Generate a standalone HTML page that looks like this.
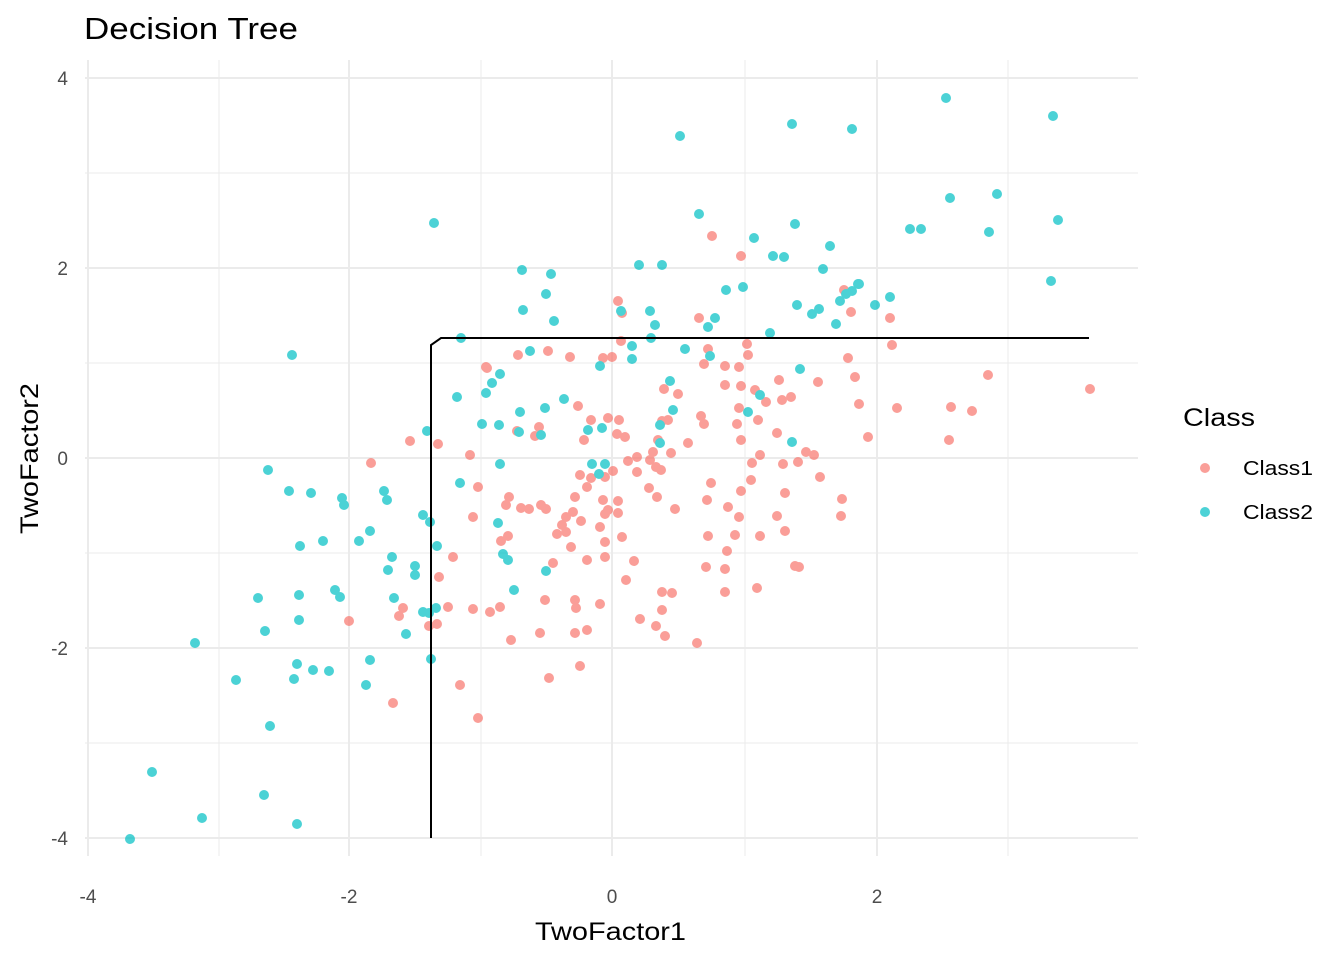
<!DOCTYPE html>
<html><head><meta charset="utf-8"><style>body{margin:0;background:#fff}svg{display:block;font-family:"Liberation Sans",sans-serif}</style></head><body>
<svg width="1344" height="960" viewBox="0 0 1344 960" xmlns="http://www.w3.org/2000/svg">
<rect width="1344" height="960" fill="#fff"/>
<g stroke="#EBEBEB" stroke-width="1">
<line x1="219" y1="60" x2="219" y2="856"/><line x1="481" y1="60" x2="481" y2="856"/><line x1="745" y1="60" x2="745" y2="856"/><line x1="1008" y1="60" x2="1008" y2="856"/>
<line x1="85" y1="173" x2="1138" y2="173"/><line x1="85" y1="363" x2="1138" y2="363"/><line x1="85" y1="553" x2="1138" y2="553"/><line x1="85" y1="743" x2="1138" y2="743"/>
</g>
<g stroke="#EBEBEB" stroke-width="2">
<line x1="88" y1="60" x2="88" y2="856"/><line x1="349" y1="60" x2="349" y2="856"/><line x1="612" y1="60" x2="612" y2="856"/><line x1="877" y1="60" x2="877" y2="856"/>
<line x1="85" y1="78" x2="1138" y2="78"/><line x1="85" y1="268" x2="1138" y2="268"/><line x1="85" y1="458" x2="1138" y2="458"/><line x1="85" y1="648" x2="1138" y2="648"/><line x1="85" y1="838" x2="1138" y2="838"/>
</g>
<g id="pts" opacity="0.7"></g>
<path d="M431 838 V345 L441 338 H1089" fill="none" stroke="#000" stroke-width="2"/>
<text x="84" y="39" font-size="31" fill="#000" textLength="214" lengthAdjust="spacingAndGlyphs">Decision Tree</text>
<g font-size="19" fill="#4D4D4D" text-anchor="end">
<text x="68" y="85">4</text><text x="68" y="275">2</text><text x="68" y="465">0</text><text x="68" y="655">-2</text><text x="68" y="845">-4</text>
</g>
<g font-size="19" fill="#4D4D4D" text-anchor="middle">
<text x="88" y="903">-4</text><text x="349" y="903">-2</text><text x="612" y="903">0</text><text x="877" y="903">2</text>
</g>
<text x="535" y="940" font-size="25" textLength="151" lengthAdjust="spacingAndGlyphs">TwoFactor1</text>
<text x="0" y="0" font-size="25" transform="translate(38 534) rotate(-90)" textLength="151" lengthAdjust="spacingAndGlyphs">TwoFactor2</text>
<text x="1183" y="426" font-size="25" textLength="72" lengthAdjust="spacingAndGlyphs">Class</text>
<circle cx="1205" cy="468" r="5" fill="#F8766D" opacity="0.7"/><text x="1243" y="475" font-size="20" textLength="70" lengthAdjust="spacingAndGlyphs">Class1</text>
<circle cx="1205" cy="512" r="5" fill="#00BFC4" opacity="0.7"/><text x="1243" y="519" font-size="20" textLength="70" lengthAdjust="spacingAndGlyphs">Class2</text>
</svg>
<script>
var t=[[946,98],[1053,116],[792,124],[852,129],[680,136],[434,223],[699,214],[950,198],[997,194],[1058,220],[910,229],[921,229],[989,232],[795,224],[830,246],[754,238],[639,265],[662,265],[522,270],[551,274],[773,256],[784,257],[823,269],[1051,281],[859,284],[852,291],[846,294],[840,301],[875,305],[890,297],[797,305],[812,314],[819,309],[743,287],[726,290],[715,318],[708,327],[655,325],[650,311],[621,311],[651,338],[685,349],[710,356],[523,310],[546,294],[554,321],[461,338],[530,351],[292,355],[836,324],[770,333],[600,366],[632,359],[500,374],[492,383],[670,381],[486,393],[457,397],[564,399],[520,412],[545,408],[482,424],[499,425],[519,432],[541,435],[427,431],[460,483],[588,430],[602,428],[660,425],[660,443],[673,410],[748,412],[760,395],[792,442],[800,369],[605,464],[592,464],[599,474],[500,464],[268,470],[289,491],[311,493],[342,498],[344,505],[384,491],[387,500],[423,515],[430,522],[437,546],[300,546],[323,541],[359,541],[370,531],[392,557],[388,570],[415,566],[415,575],[498,523],[503,554],[508,560],[546,571],[514,590],[335,590],[340,597],[394,598],[423,612],[429,613],[436,608],[258,598],[265,631],[299,595],[299,620],[406,634],[195,643],[297,664],[313,670],[329,671],[236,680],[370,660],[366,685],[294,679],[431,659],[270,726],[152,772],[264,795],[202,818],[297,824],[130,839],[858,284],[632,346]];
var r=[[712,236],[741,256],[618,301],[622,313],[699,318],[851,312],[844,290],[890,318],[892,345],[747,344],[748,355],[708,349],[739,367],[704,364],[612,357],[603,358],[570,357],[548,351],[518,355],[486,367],[621,341],[664,389],[678,394],[725,366],[766,402],[779,380],[782,400],[791,397],[818,382],[848,358],[855,377],[859,404],[897,408],[951,407],[972,411],[988,375],[1090,389],[868,437],[949,440],[737,424],[758,420],[701,416],[608,418],[619,420],[625,437],[578,406],[584,440],[591,420],[617,434],[637,457],[658,440],[662,421],[661,470],[653,452],[656,467],[628,461],[591,478],[605,477],[587,487],[580,475],[613,471],[637,472],[649,488],[657,497],[675,509],[603,500],[618,501],[618,513],[605,514],[600,527],[575,497],[573,512],[546,509],[541,505],[529,509],[521,508],[509,497],[506,505],[566,517],[566,532],[557,534],[581,521],[562,525],[508,536],[501,541],[605,542],[622,537],[605,557],[634,561],[626,580],[587,560],[571,547],[553,563],[470,455],[478,487],[473,517],[453,557],[439,577],[437,624],[429,626],[448,607],[473,609],[490,612],[500,607],[545,600],[575,600],[576,608],[600,604],[587,630],[575,633],[540,633],[511,640],[580,666],[549,678],[460,685],[478,718],[393,703],[403,608],[399,616],[349,621],[371,463],[410,441],[438,444],[487,368],[517,431],[535,436],[539,427],[711,483],[707,500],[728,507],[741,491],[739,517],[752,463],[783,464],[777,433],[798,462],[806,452],[814,455],[820,477],[841,516],[842,499],[777,516],[785,531],[785,493],[760,536],[735,535],[708,536],[727,551],[725,569],[706,567],[725,592],[662,592],[662,610],[672,593],[640,619],[656,626],[665,636],[697,643],[757,588],[795,566],[799,567],[751,480],[739,408],[741,386],[755,390],[725,385],[704,424],[668,420],[671,453],[741,440],[760,455],[688,443],[650,460],[608,510]];
var g=document.getElementById('pts'),s='';
r.forEach(function(p){s+='<circle cx="'+p[0]+'" cy="'+p[1]+'" r="5" fill="#F8766D"/>';});
t.forEach(function(p){s+='<circle cx="'+p[0]+'" cy="'+p[1]+'" r="5" fill="#00BFC4"/>';});
g.innerHTML=s;
</script>
</body></html>
